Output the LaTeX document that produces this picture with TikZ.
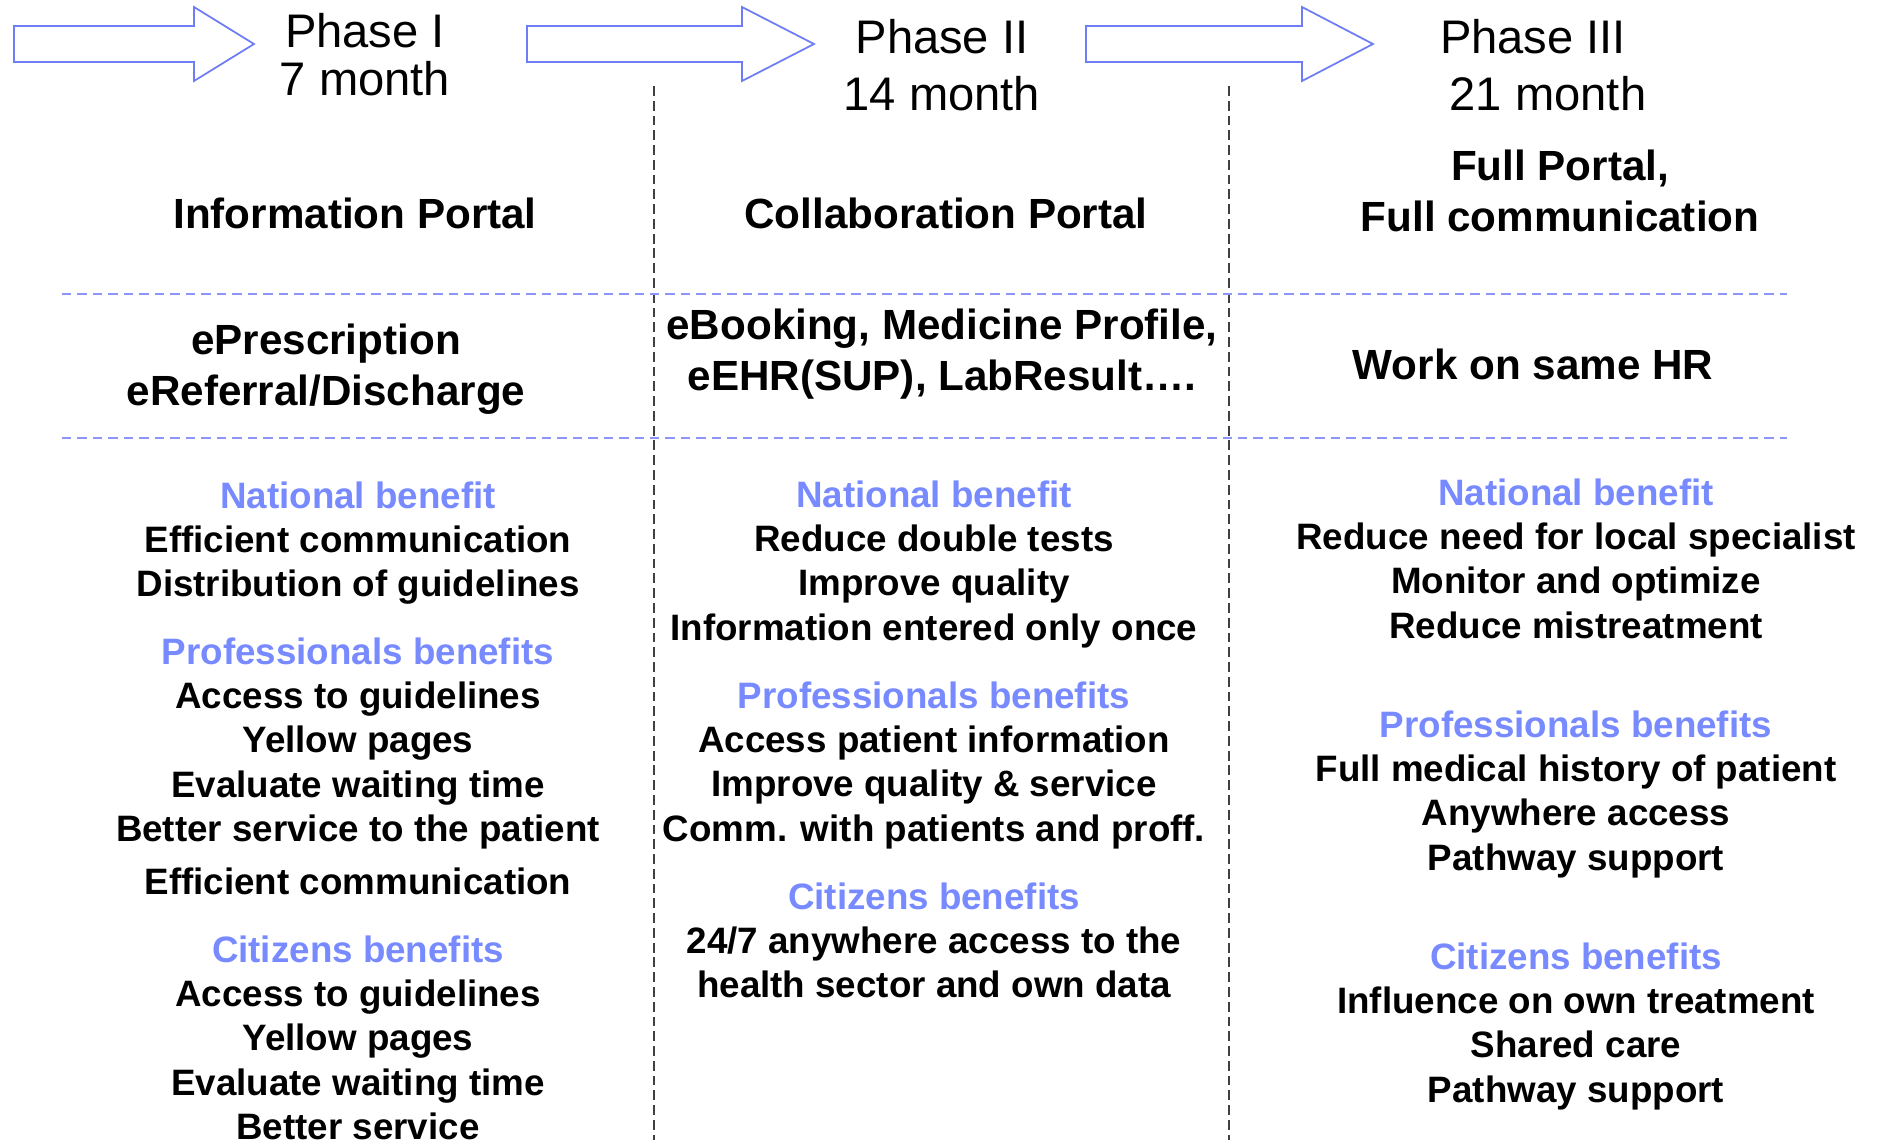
\documentclass[tikz,border=0pt]{standalone}
\usepackage{fontspec}
\setmainfont{Liberation Sans}
\usepackage{tikz}
\usetikzlibrary{positioning}
\definecolor{arrowblue}{RGB}{110,125,245}
\definecolor{lineblue}{RGB}{140,150,250}
\definecolor{benblue}{RGB}{120,138,255}
\newcommand{\phasefont}{\fontsize{13.4pt}{16pt}\selectfont}
\newcommand{\portalfont}{\fontsize{12pt}{14.6pt}\selectfont\bfseries}
\newcommand{\benefitfont}{\fontsize{10.45pt}{12.6pt}\selectfont\bfseries}
\tikzset{
    phase/.style={font=\phasefont, anchor=base, inner sep=0pt},
    portal/.style={font=\portalfont, align=center, inner sep=0pt},
    benefit/.style={font=\benefitfont, align=center, inner sep=0pt, anchor=north},
    phasearrow/.style={draw=arrowblue, line width=0.5pt},
    rowline/.style={draw=lineblue, dash pattern=on 2.7pt off 1.7pt, line width=0.6pt},
    colline/.style={draw=black!75, dash pattern=on 2.8pt off 1.4pt, line width=0.5pt}
}

\begin{document}
\begin{tikzpicture}[x=0.01cm, y=-0.01cm]
  \useasboundingbox (0,0) rectangle (1877,1142);

  % Phase arrows
  \draw[phasearrow] (14,26) -- (194,26) -- (194,7) -- (254,44) -- (194,81) -- (194,62) -- (14,62) -- cycle;
  \draw[phasearrow] (527,26) -- (742,26) -- (742,7) -- (814,44) -- (742,81) -- (742,62) -- (527,62) -- cycle;
  \draw[phasearrow] (1086,26) -- (1302,26) -- (1302,7) -- (1373,44) -- (1302,81) -- (1302,62) -- (1086,62) -- cycle;

  % Phase titles
  \node[phase] (p1) at (365,47) {Phase I};
  \node[phase] (m1) at (365,95) {7 month};
  \node[phase] (p2) at (942,53) {Phase II};
  \node[phase] (m2) at (942,110) {14 month};
  \node[phase] (p3) at (1533,53) {Phase III};
  \node[phase] (m3) at (1548,110) {21 month};

  % Column separators
  \draw[colline] (654,86) -- (654,1140);
  \draw[colline] (1229,86) -- (1229,1140);

  % Row separators
  \draw[rowline] (62,294) -- (1787,294);
  \draw[rowline] (62,438) -- (1787,438);

  % Portal type
  \node[portal, anchor=base] (info) at (355,228) {Information Portal};
  \node[portal, anchor=base] (collab) at (946,228) {Collaboration Portal};
  \node[portal, anchor=north] (full) at (1560,149) {Full Portal,\\Full communication};

  % Services
  \node[portal, anchor=north] (serv1) at (326,323) {ePrescription\\eReferral/Discharge};
  \node[portal, anchor=north] (serv2) at (942,308) {eBooking, Medicine Profile,\\eEHR(SUP), LabResult\dots.};
  \node[portal, anchor=base] (serv3) at (1533,379) {Work on same HR};

  % Benefits, phase I
  \node[benefit] (nat1) at (358,481) {\textcolor{benblue}{National benefit}\\Efficient communication\\Distribution of guidelines};
  \node[benefit] (prof1) at (358,637) {\textcolor{benblue}{Professionals benefits}\\Access to guidelines\\Yellow pages\\Evaluate waiting time\\Better service to the patient\\[2.4pt]Efficient communication};
  \node[benefit] (cit1) at (358,935) {\textcolor{benblue}{Citizens benefits}\\Access to guidelines\\Yellow pages\\Evaluate waiting time\\Better service};

  % Benefits, phase II
  \node[benefit] (nat2) at (934,480) {\textcolor{benblue}{National benefit}\\Reduce double tests\\Improve quality\\Information entered only once};
  \node[benefit] (prof2) at (934,681) {\textcolor{benblue}{Professionals benefits}\\Access patient information\\Improve quality \& service\\Comm. with patients and proff.};
  \node[benefit] (cit2) at (934,882) {\textcolor{benblue}{Citizens benefits}\\24/7 anywhere access to the\\health sector and own data};

  % Benefits, phase III
  \node[benefit] (nat3) at (1576,478) {\textcolor{benblue}{National benefit}\\Reduce need for local specialist\\Monitor and optimize\\Reduce mistreatment};
  \node[benefit] (prof3) at (1576,710) {\textcolor{benblue}{Professionals benefits}\\Full medical history of patient\\Anywhere access\\Pathway support};
  \node[benefit] (cit3) at (1576,942) {\textcolor{benblue}{Citizens benefits}\\Influence on own treatment\\Shared care\\Pathway support};
\end{tikzpicture}
\end{document}
